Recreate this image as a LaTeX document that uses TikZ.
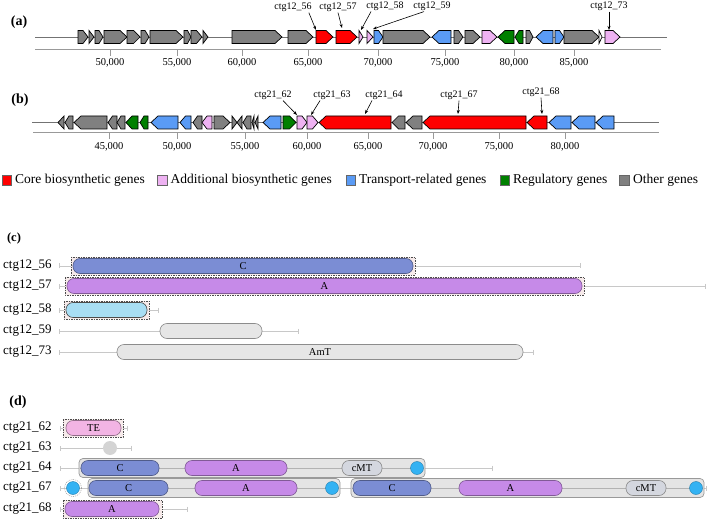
\documentclass[tikz,border=0pt]{standalone}
\usepackage{fontspec}
\setmainfont{Liberation Serif}
\usepackage{xcolor}
\usepackage{tikz}
\usetikzlibrary{arrows.meta}
\usetikzlibrary{positioning}

\definecolor{core}{HTML}{FF0000}
\definecolor{addit}{HTML}{EEB2F2}
\definecolor{transp}{HTML}{5A9BF5}
\definecolor{regul}{HTML}{008000}
\definecolor{other}{HTML}{808080}
\definecolor{bbgray}{HTML}{C8C8C8}
\definecolor{cfill}{HTML}{7B8DD4}
\definecolor{afill}{HTML}{C68AE8}
\definecolor{lbfill}{HTML}{A8DEF4}
\definecolor{gfill}{HTML}{E6E6E6}
\definecolor{tefill}{HTML}{F2B4E4}
\definecolor{mtfill}{HTML}{D4D7DF}
\definecolor{pcpblue}{HTML}{33B2F3}
\definecolor{modgray}{HTML}{E4E4E4}
\definecolor{hlpink}{HTML}{F6EAEA}

\tikzset{
  gene/.style={draw=black, line width=0.7pt},
  track/.style={draw=black!55, line width=0.8pt},
  axisln/.style={draw=black!40, line width=1pt},
  ticklab/.style={font=\fontsize{10.5}{12}\selectfont, inner sep=0},
  genelab/.style={font=\fontsize{10}{12}\selectfont, inner sep=1pt},
  callout/.style={draw=black, line width=0.6pt, -{Stealth[length=4pt, width=3pt]}},
  panel/.style={font=\bfseries\fontsize{14}{16}\selectfont, inner sep=0},
  legbox/.style={draw=black!60, line width=0.4pt, minimum size=9.5pt, inner sep=0},
  legtxt/.style={font=\fontsize{13.5}{15}\selectfont, inner sep=0, anchor=west},
  rowlab/.style={font=\fontsize{13}{15}\selectfont, inner sep=0, anchor=west},
  bb/.style={draw=bbgray, line width=0.8pt, arrows={Bar[width=5pt]-Bar[width=5pt]}},
  hilite/.style={draw=black!70, dash pattern=on 1.5pt off 1pt, fill=hlpink, line width=0.6pt},
  module/.style={draw=black!40, fill=modgray, rounded corners=4pt, line width=0.7pt},
  inner/.style={draw=black!30, line width=0.8pt},
  dombox/.style={rounded corners=7pt, minimum height=15pt, inner sep=0,
    font=\fontsize{10.5}{12}\selectfont, line width=0.6pt},
  cdom/.style={fill=cfill, draw=cfill!65!black},
  adom/.style={fill=afill, draw=afill!65!black},
  lbdom/.style={fill=lbfill, draw=black!70},
  gdom/.style={fill=gfill, draw=black!45},
  tedom/.style={fill=tefill, draw=tefill!60!black},
  mtdom/.style={fill=mtfill, draw=black!45},
  pcp/.style={circle, fill=pcpblue, draw=pcpblue!70!black, line width=0.4pt,
    minimum size=13pt, inner sep=0},
}

% gene arrow: y, x1, x2, direction (1 / -1), colour
\newcommand{\genearrow}[5]{%
  \pgfmathsetmacro\glen{#3-#2}%
  \pgfmathsetmacro\ghead{\glen<7 ? \glen : min(7,\glen/2)}%
  \pgfmathsetmacro\gStart{#4>0 ? #2 : #3}%
  \pgfmathsetmacro\gEnd{#4>0 ? #3 : #2}%
  \pgfmathsetmacro\gBase{\gEnd-#4*\ghead}%
  \filldraw[gene, fill=#5] (\gStart,#1-6.5) -- (\gBase,#1-6.5) -- (\gEnd,#1)
    -- (\gBase,#1+6.5) -- (\gStart,#1+6.5) -- cycle;}

% domain: name, x1, x2, y, style, text
\newcommand{\domain}[6]{%
  \pgfmathsetmacro\dwid{#3-#2}%
  \pgfmathsetmacro\dmid{(#2+#3)/2}%
  \node[dombox, #5, minimum width=\dwid pt] (#1) at (\dmid,#4) {#6};}

\begin{document}
\begin{tikzpicture}[x=1pt, y=-1pt]
  \useasboundingbox (0,0) rectangle (709,521);

  % ---------- (a) ----------
  \node[panel] (pa) at (19,22) {(a)};
  \draw[track] (35,37) -- (667,37);
  \draw[axisln] (35,49.5) -- (661,49.5);
  \foreach \x/\lab in {110/{50,000}, 177/{55,000}, 242/{60,000}, 308/{65,000},
                       378/{70,000}, 445/{75,000}, 514/{80,000}, 574/{85,000}}{
    \draw[axisln, line width=0.8pt] (\x,49.5) -- (\x,56);
    \node[ticklab] (ta-\x) at (\x,63) {\lab};
  }
  \foreach \xa/\xb/\d/\c in {78/88/1/other, 89/94/1/other, 95/103/1/other,
      104/127/1/other, 127/140/1/other, 141/149/1/other, 150/183/1/other,
      184/191/1/other, 191/202/1/other, 203/208/1/other, 232/282/1/other,
      288/313/1/other, 316/333/1/core, 336/357/1/core, 359/363/1/addit,
      367/373/1/addit, 374/383/1/transp, 383/430/1/other, 432/451/-1/transp,
      454/463/1/other, 465/480/1/other, 482/497/1/addit, 498/514/-1/regul,
      515/523/-1/regul, 526/533/1/other, 536/553/-1/transp, 555/564/1/transp,
      564/599/1/other, 599/602/1/white, 605/620/1/addit}{
    \genearrow{37}{\xa}{\xb}{\d}{\c}
  }
  \node[genelab] (l56) at (293,7) {ctg12\_56};
  \node[genelab] (l57) at (338,7) {ctg12\_57};
  \node[genelab] (l58) at (385,6) {ctg12\_58};
  \node[genelab] (l59) at (432,6) {ctg12\_59};
  \node[genelab] (l73) at (609,6) {ctg12\_73};
  \coordinate (g56) at (316,30);
  \coordinate (g57) at (342,28);
  \coordinate (g58) at (361,30);
  \coordinate (g59) at (373,29);
  \coordinate (g73) at (609,30);
  \draw[callout] ([xshift=-4pt]l56.south east) -- (g56);
  \draw[callout] (l57.south) -- (g57);
  \draw[callout] ([xshift=-14pt]l58.south) -- (g58);
  \draw[callout] ([xshift=-8pt]l59.south) -- (g59);
  \draw[callout] (l73.south) -- (g73);

  % ---------- (b) ----------
  \node[panel] (pb) at (20,100) {(b)};
  \draw[track] (32,122.5) -- (659,122.5);
  \draw[axisln] (33,133) -- (659,133);
  \foreach \x/\lab in {109/{45,000}, 177/{50,000}, 245/{55,000}, 307/{60,000},
                       368/{65,000}, 433/{70,000}, 499/{75,000}, 565/{80,000}}{
    \draw[axisln, line width=0.8pt] (\x,133) -- (\x,139);
    \node[ticklab] (tb-\x) at (\x,147) {\lab};
  }
  \foreach \xa/\xb/\d/\c in {58/64/-1/other, 65/73/-1/other, 74/107/-1/other,
      108/117/-1/other, 117/125/-1/other, 126/138/-1/regul, 140/148/-1/regul,
      151/178/-1/transp, 180/191/-1/transp, 193/202/-1/other, 202/212/-1/addit,
      214/230/1/other, 232/237/1/other, 237/242/-1/other, 243/251/-1/other,
      252/254/-1/other, 255/258/-1/other, 263/281/-1/transp, 283/296/1/regul,
      297/307/1/addit, 307/318/1/addit, 319/391/-1/core, 392/405/-1/other,
      406/422/-1/other, 423/526/-1/core, 527/547/-1/core, 549/571/-1/transp,
      572/595/-1/transp, 596/614/-1/transp}{
    \genearrow{122.5}{\xa}{\xb}{\d}{\c}
  }
  \node[genelab] (l62) at (273,95) {ctg21\_62};
  \node[genelab] (l63) at (332,95) {ctg21\_63};
  \node[genelab] (l64) at (384,95) {ctg21\_64};
  \node[genelab] (l67) at (459,95) {ctg21\_67};
  \node[genelab] (l68) at (541,92) {ctg21\_68};
  \coordinate (g62) at (297,115);
  \coordinate (g63) at (311,115);
  \coordinate (g64) at (365,114);
  \coordinate (g67) at (458,114);
  \coordinate (g68) at (542,114);
  \draw[callout] ([xshift=10pt]l62.south) -- (g62);
  \draw[callout] ([xshift=-12pt]l63.south) -- (g63);
  \draw[callout] ([xshift=-12pt]l64.south) -- (g64);
  \draw[callout] (l67.south) -- (g67);
  \draw[callout] (l68.south) -- (g68);

  % ---------- legend ----------
  \node[legbox, fill=core] (lg-core) at (6.5,180) {};
  \node[legtxt, right=3.5pt of lg-core] (lt-core) {Core biosynthetic genes};
  \node[legbox, fill=addit] (lg-add) at (162,180) {};
  \node[legtxt, right=3.5pt of lg-add] (lt-add) {Additional biosynthetic genes};
  \node[legbox, fill=transp] (lg-tr) at (350.5,180) {};
  \node[legtxt, right=3.5pt of lg-tr] (lt-tr) {Transport-related genes};
  \node[legbox, fill=regul] (lg-reg) at (504.5,180) {};
  \node[legtxt, right=3.5pt of lg-reg] (lt-reg) {Regulatory genes};
  \node[legbox, fill=other] (lg-oth) at (624,180) {};
  \node[legtxt, right=4pt of lg-oth] (lt-oth) {Other genes};

  % ---------- (c) ----------
  \node[panel, font=\bfseries\fontsize{12.5}{14}\selectfont] (pc) at (14,238) {(c)};
  \node[rowlab] (n56) at (3,266) {ctg12\_56};
  \node[rowlab] (n57) at (3,286) {ctg12\_57};
  \node[rowlab] (n58) at (3,310) {ctg12\_58};
  \node[rowlab] (n59) at (3,331) {ctg12\_59};
  \node[rowlab] (n73) at (3,352) {ctg12\_73};
  \draw[bb] (59,266) -- (581,266);
  \draw[bb] (59,286) -- (706,286);
  \draw[bb] (59,310) -- (159,310);
  \draw[bb] (59,331) -- (299,331);
  \draw[bb] (59,352) -- (534,352);
  \draw[hilite] (71,257) rectangle (415,275);
  \draw[hilite] (65,277) rectangle (584,295);
  \draw[hilite] (64,301) rectangle (149,319);
  \domain{c56C}{73}{413}{266}{cdom}{C}
  \domain{c57A}{67}{582}{286}{adom}{A}
  \domain{c58X}{66}{147}{310}{lbdom}{}
  \domain{c59X}{160}{262}{331}{gdom}{}
  \domain{c73T}{117}{523}{352}{gdom}{AmT}

  % ---------- (d) ----------
  \node[panel] (pd) at (18,402) {(d)};
  \node[rowlab] (n62) at (3,428) {ctg21\_62};
  \node[rowlab] (n63) at (3,448) {ctg21\_63};
  \node[rowlab] (n64) at (3,468) {ctg21\_64};
  \node[rowlab] (n67) at (3,488) {ctg21\_67};
  \node[rowlab] (n68) at (3,509) {ctg21\_68};
  \draw[bb] (60,428) -- (128,428);
  \draw[bb] (60,448) -- (132,448);
  \draw[bb] (60,468) -- (493,468);
  \draw[bb] (60,488) -- (707,488);
  \draw[bb] (60,509) -- (188,509);
  % ctg21_62
  \draw[hilite] (63,419) rectangle (123,437);
  \domain{d62T}{66}{121}{428}{tedom}{TE}
  % ctg21_63
  \node[circle, fill=black!17, minimum size=14pt, inner sep=0] (d63X) at (110,448) {};
  % ctg21_64
  \draw[module] (79,458.5) rectangle (425,477.5);
  \draw[inner] (80,468) -- (424,468);
  \domain{d64C}{81}{159}{468}{cdom}{C}
  \domain{d64A}{185}{287}{468}{adom}{A}
  \domain{d64M}{342}{382}{468}{mtdom}{cMT}
  \node[pcp] (d64P) at (417,468) {};
  % ctg21_67
  \node[circle, draw=black!45, dash pattern=on 1pt off 1pt, minimum size=17pt, inner sep=0] (d67H) at (73,488) {};
  \node[pcp] (d67P1) at (73,488) {};
  \draw[module] (88,478.5) rectangle (340,497.5);
  \draw[inner] (89,488) -- (339,488);
  \domain{d67C1}{89}{168}{488}{cdom}{C}
  \domain{d67A1}{195}{297}{488}{adom}{A}
  \node[pcp] (d67P2) at (332,488) {};
  \draw[module] (351,478.5) rectangle (704,497.5);
  \draw[inner] (352,488) -- (703,488);
  \domain{d67C2}{353}{431}{488}{cdom}{C}
  \domain{d67A2}{459}{562}{488}{adom}{A}
  \domain{d67M}{626}{666}{488}{mtdom}{cMT}
  \node[pcp] (d67P3) at (696,488) {};
  % ctg21_68
  \draw[hilite] (63,500) rectangle (162,518);
  \domain{d68A}{65}{159}{509}{adom}{A}
\end{tikzpicture}
\end{document}
